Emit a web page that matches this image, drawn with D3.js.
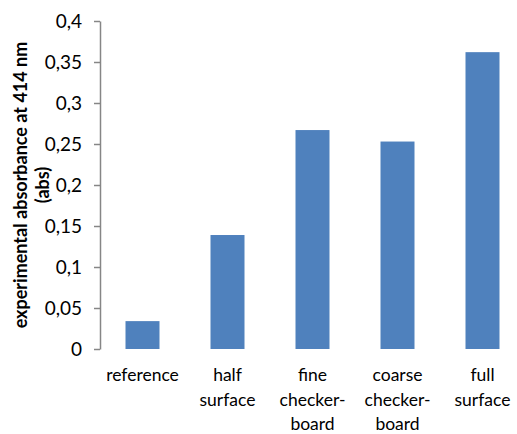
<!DOCTYPE html>
<html>
<head>
<meta charset="utf-8">
<script src="https://cdn.jsdelivr.net/npm/d3@7"></script>
<style>
  body { margin: 0; background: #fff; }
  text { font-family: Lato, "Open Sans", sans-serif; fill: #000; }
</style>
</head>
<body>
<svg id="chart" width="517" height="434"></svg>
<script>
// categories (each entry = lines of the label)
const categories = ["reference", "half surface", "fine checker-board", "coarse checker-board", "full surface"];
const labelLines = [["reference"], ["half", "surface"], ["fine", "checker-", "board"], ["coarse", "checker-", "board"], ["full", "surface"]];
const absorbance = [0.034, 0.139, 0.267, 0.253, 0.362];
const yTicks = [0, 0.05, 0.1, 0.15, 0.2, 0.25, 0.3, 0.35, 0.4];

const svg = d3.select("#chart");
const plotLeft = 100, plotRight = 525, plotTop = 21, plotBottom = 349;

const x = d3.scaleBand().domain(categories).range([plotLeft, plotRight]).paddingInner(0.6).paddingOuter(0.3);
const y = d3.scaleLinear().domain([0, 0.4]).range([plotBottom, plotTop]);

// bars
svg.append("g").selectAll("rect")
  .data(absorbance)
  .join("rect")
  .attr("x", (d, i) => x(categories[i]))
  .attr("y", d => y(d))
  .attr("width", x.bandwidth())
  .attr("height", d => y(0) - y(d))
  .attr("fill", "#4f81bd");

// y axis
const fmt = d => String(+d.toFixed(2)).replace(".", ",");
const yAxis = svg.append("g")
  .attr("transform", `translate(${plotLeft},0)`)
  .call(d3.axisLeft(y).tickValues(yTicks).tickFormat(fmt).tickSize(6).tickPadding(12).tickSizeOuter(0));
yAxis.select(".domain").attr("stroke", "#868686").attr("stroke-width", 1.5);
yAxis.selectAll(".tick line").attr("stroke", "#868686").attr("stroke-width", 1.5);
yAxis.selectAll(".tick text").style("font-size", "19px").attr("fill", "#000");

// x labels
const xl = svg.append("g").selectAll("text")
  .data(labelLines)
  .join("text")
  .attr("text-anchor", "middle")
  .style("font-size", "17.5px")
  .attr("x", (d, i) => x(categories[i]) + x.bandwidth() / 2)
  .attr("y", 381);
xl.selectAll("tspan")
  .data(d => d)
  .join("tspan")
  .attr("x", function () { return d3.select(this.parentNode).attr("x"); })
  .attr("dy", (d, i) => i === 0 ? 0 : 24.5)
  .text(d => d);

// y title
const title = svg.append("text")
  .attr("transform", "translate(0,185) rotate(-90)")
  .attr("text-anchor", "middle")
  .style("font-size", "18px")
  .style("font-weight", "bold");
title.append("tspan").attr("x", 0).attr("y", 27).text("experimental absorbance at 414 nm");
title.append("tspan").attr("x", 0).attr("y", 49).text("(abs)");
</script>
</body>
</html>
